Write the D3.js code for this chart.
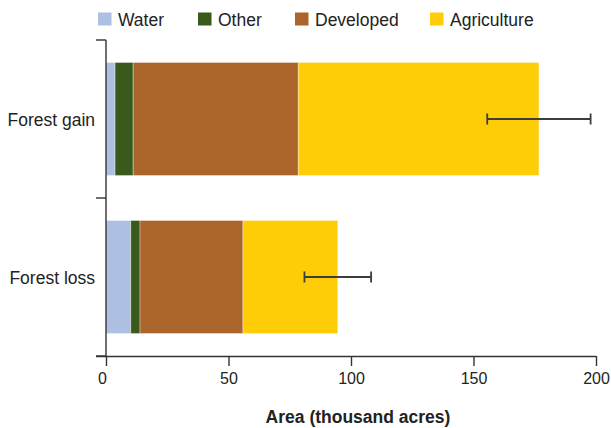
<!DOCTYPE html>
<html>
<head>
<meta charset="utf-8">
<script src="https://cdn.jsdelivr.net/npm/d3@7"></script>
<style>
  html, body { margin: 0; padding: 0; background: #fff; }
  svg { display: block; font-family: "Liberation Sans", Arial, Helvetica, sans-serif; }
</style>
</head>
<body>
<svg id="chart" width="611" height="428"></svg>
<script>
// Land-cover change: forest gain and loss, split by land use (thousand acres)
const categories = ["Forest gain", "Forest loss"];
const landUses = ["Water", "Other", "Developed", "Agriculture"];
const water       = [3.7, 10.1];
const other       = [7.4, 3.8];
const developed   = [67.4, 42.0];
const agriculture = [98.2, 38.7];
const errorMargin = [21.1, 13.6];
const xTicks = [0, 50, 100, 150, 200];
const colors = ["#adbfe3", "#3a5a1b", "#ab6429", "#fecd07"];

(function () {
  const rows = categories.map((c, i) => ({
    category: c,
    Water: water[i],
    Other: other[i],
    Developed: developed[i],
    Agriculture: agriculture[i],
    err: errorMargin[i]
  }));

  const svg = d3.select("#chart");
  const plotLeft = 106, plotRight = 596, plotTop = 40, plotBottom = 356;

  const x = d3.scaleLinear().domain([0, 200]).range([plotLeft, plotRight]);
  const y = d3.scaleBand().domain(categories).range([plotTop, plotBottom])
    .paddingInner(0.285).paddingOuter(0.1425);
  const color = d3.scaleOrdinal().domain(landUses).range(colors);

  const stacked = d3.stack().keys(landUses)(rows);

  // stacked bars
  svg.append("g").selectAll("g")
    .data(stacked).join("g")
    .attr("fill", d => color(d.key))
    .selectAll("rect")
    .data(d => d).join("rect")
    .attr("x", d => x(d[0]))
    .attr("width", d => x(d[1]) - x(d[0]))
    .attr("y", d => y(d.data.category))
    .attr("height", y.bandwidth())
    .attr("stroke", "#ffffff")
    .attr("stroke-opacity", 0.35)
    .attr("stroke-width", 1);

  // error bars on totals
  const capH = 11;
  const eb = svg.append("g").attr("stroke", "#3d3d3d").attr("stroke-width", 1.8);
  rows.forEach(r => {
    const total = landUses.reduce((s, k) => s + r[k], 0);
    const cy = y(r.category) + y.bandwidth() / 2;
    eb.append("line").attr("x1", x(total - r.err)).attr("x2", x(total + r.err))
      .attr("y1", cy).attr("y2", cy);
    [total - r.err, total + r.err].forEach(v => {
      eb.append("line").attr("x1", x(v)).attr("x2", x(v))
        .attr("y1", cy - capH / 2).attr("y2", cy + capH / 2);
    });
  });

  // x axis
  const xAxis = svg.append("g")
    .attr("transform", `translate(0,${plotBottom})`)
    .call(d3.axisBottom(x).tickValues(xTicks).tickSize(10).tickPadding(7).tickFormat(d3.format("d")));
  xAxis.select(".domain").attr("d", `M${plotLeft - 10},0.5H${plotRight}`).attr("stroke", "#333").attr("stroke-width", 1.4);
  xAxis.selectAll(".tick line").attr("stroke", "#333").attr("stroke-width", 1.4);
  xAxis.selectAll(".tick text").attr("font-size", 16).attr("fill", "#222")
    .attr("font-family", "'Liberation Sans', Arial, sans-serif")
    .attr("dx", d => d === 0 ? -4 : 0);

  // y axis: ticks on band boundaries, labels centred in each band
  const step = y.step();
  const boundaries = categories.map(c => y(c) - step * y.paddingInner() / 2).concat([plotBottom]);
  const yAxis = svg.append("g");
  yAxis.append("line").attr("x1", plotLeft).attr("x2", plotLeft).attr("y1", plotTop).attr("y2", plotBottom)
    .attr("stroke", "#333").attr("stroke-width", 1.4);
  yAxis.selectAll("line.tick").data(boundaries).join("line").attr("class", "tick")
    .attr("x1", plotLeft - 10).attr("x2", plotLeft).attr("y1", d => d).attr("y2", d => d)
    .attr("stroke", "#333").attr("stroke-width", 1.4);
  yAxis.selectAll("text").data(categories).join("text")
    .attr("x", 95).attr("y", d => y(d) + y.bandwidth() / 2 + 1)
    .attr("dy", "0.35em").attr("text-anchor", "end")
    .attr("font-size", 17.5).attr("fill", "#222").text(d => d);

  // axis title
  svg.append("text").attr("x", 358).attr("y", 423).attr("text-anchor", "middle")
    .attr("font-size", 17.5).attr("font-weight", "bold").attr("fill", "#222")
    .text("Area (thousand acres)");

  // legend
  const legendX = [98, 198, 295, 430];
  const legend = svg.append("g");
  landUses.forEach((k, i) => {
    const g = legend.append("g").attr("transform", `translate(${legendX[i]},12.5)`);
    g.append("rect").attr("width", 13.5).attr("height", 13).attr("fill", color(k));
    g.append("text").attr("x", 20).attr("y", 13.5)
      .attr("font-size", 17.5).attr("fill", "#222").text(k);
  });
})();
</script>
</body>
</html>
